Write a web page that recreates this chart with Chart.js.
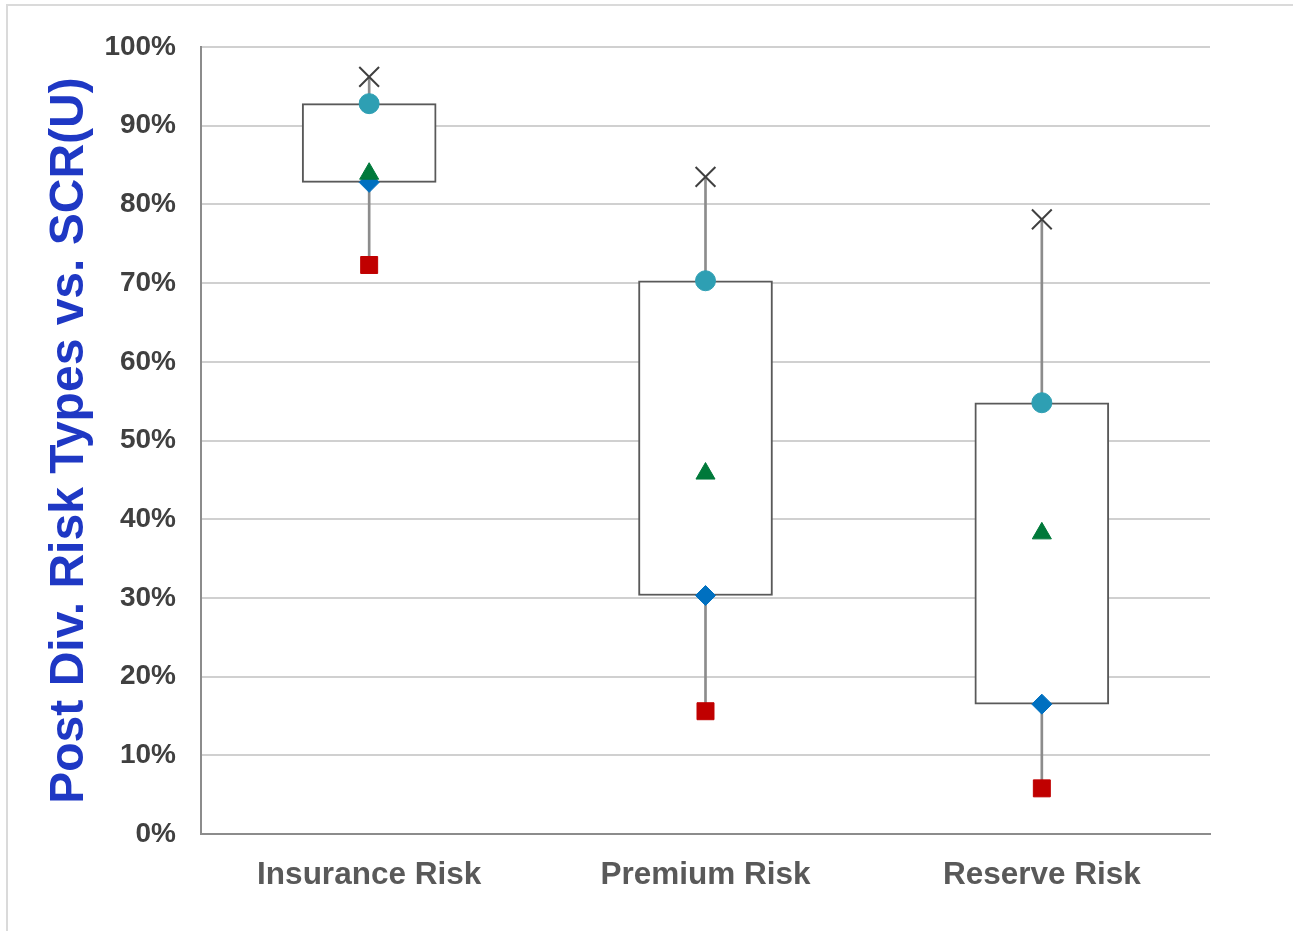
<!DOCTYPE html>
<html>
<head>
<meta charset="utf-8">
<script src="https://cdn.jsdelivr.net/npm/chart.js@4.4.1/dist/chart.umd.min.js"></script>
<style>
    body { margin: 0; background: #ffffff; }
    #wrap { position: relative; width: 1293px; height: 931px; }
    #frameTop { position: absolute; left: 6px; top: 4px; width: 1287px; height: 2px; background: #dadada; }
    #frameLeft { position: absolute; left: 6px; top: 4px; width: 2px; height: 927px; background: #dadada; }
</style>
</head>
<body>
<div id="wrap">
    <canvas id="riskChart" width="1293" height="931"></canvas>
    <div id="frameTop"></div>
    <div id="frameLeft"></div>
</div>
<script>
// risk types on the x axis
const riskTypes = ["Insurance Risk", "Premium Risk", "Reserve Risk"];

// post diversification risk as % of SCR(U)
const maxRisk = [96.2, 83.5, 78.1];    // cross
const upperRisk = [92.8, 70.3, 54.8];  // circle, top of box
const meanRisk = [83.9, 45.8, 38.2];   // triangle
const lowerRisk = [82.8, 30.3, 16.5];  // diamond, bottom of box
const minRisk = [72.3, 15.6, 5.8];     // square

const yTicks = [0, 10, 20, 30, 40, 50, 60, 70, 80, 90, 100];

const fontFamily = '"Liberation Sans", Arial, sans-serif';

// floating bars: thin one for the whisker, wide one for the box
const whiskers = riskTypes.map((r, i) => [minRisk[i], maxRisk[i]]);
const boxes = riskTypes.map((r, i) => [lowerRisk[i], upperRisk[i]]);

const markerSet = (label, data, style, color, radius, order, extra) =>
    Object.assign({
        type: "line",
        label: label,
        data: data,
        showLine: false,
        pointStyle: style,
        pointRadius: radius,
        pointHoverRadius: radius,
        pointBackgroundColor: color,
        pointBorderColor: color,
        pointBorderWidth: 1,
        order: order,
    }, extra || {});

const ctx = document.getElementById("riskChart").getContext("2d");

const riskChart = new Chart(ctx, {
    type: "bar",
    data: {
        labels: riskTypes,
        datasets: [
            markerSet("Mean", meanRisk, "triangle", "#00793a", 11, 0),
            markerSet("Lower", lowerRisk, "rectRot", "#0070c0", 10, 1),
            markerSet("Min", minRisk, "rect", "#c00000", 12, 1),
            markerSet("Upper", upperRisk, "circle", "#2e9fb3", 10, 1),
            markerSet("Max", maxRisk, "crossRot", "#404040", 14, 1, { pointBorderWidth: 2 }),
            {
                label: "Box",
                data: boxes,
                backgroundColor: "#ffffff",
                borderColor: "#595959",
                borderWidth: 2,
                borderSkipped: false,
                barThickness: 134,
                grouped: false,
                order: 5,
            },
            {
                label: "Whisker",
                data: whiskers,
                backgroundColor: "#8c8c8c",
                borderWidth: 0,
                barThickness: 2,
                grouped: false,
                order: 6,
            },
        ],
    },
    options: {
        responsive: false,
        animation: false,
        layout: {
            padding: { left: 0, top: 47, right: 83, bottom: 0 },
        },
        plugins: {
            legend: { display: false },
            tooltip: { enabled: false },
        },
        scales: {
            x: {
                offset: true,
                grid: { display: false },
                border: { display: true, color: "#8c8c8c", width: 2 },
                ticks: {
                    color: "#595959",
                    padding: 14,
                    font: { family: fontFamily, size: 31.5, weight: "bold" },
                },
                afterFit: (scale) => { scale.height = 97; },
            },
            y: {
                min: 0,
                max: 100,
                afterBuildTicks: (scale) => {
                    scale.ticks = yTicks.map((v) => ({ value: v }));
                },
                grid: { color: "#d0d0d0", lineWidth: 2, drawTicks: false },
                border: { display: true, color: "#8c8c8c", width: 2 },
                ticks: {
                    color: "#404040",
                    padding: 25,
                    font: { family: fontFamily, size: 28, weight: "bold" },
                    callback: (v) => v + "%",
                },
                title: {
                    display: true,
                    text: "Post Div. Risk Types vs. SCR(U)",
                    color: "#1f38c4",
                    font: { family: fontFamily, size: 48, weight: "bold" },
                    padding: { top: 41, bottom: 0 },
                },
                afterFit: (scale) => { scale.width = 201; },
            },
        },
    },
});
</script>
</body>
</html>
